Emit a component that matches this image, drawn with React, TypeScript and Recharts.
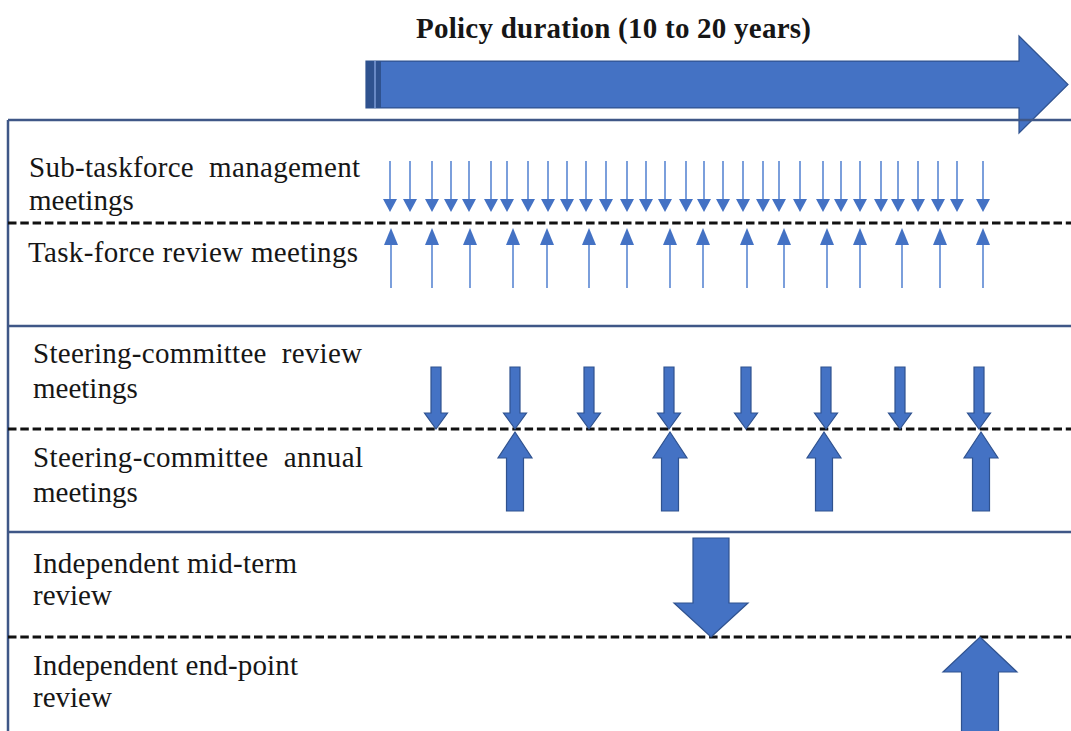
import React from 'react';
import {
  ComposedChart,
  XAxis,
  YAxis,
  Scatter,
  ReferenceLine,
  ReferenceArea,
  Customized,
} from 'recharts';

const WIDTH = 1071;
const HEIGHT = 731;

// where each meeting falls along the policy timeline
const subTaskforceMeetings = [
  390, 410, 432, 451, 469, 491, 507, 528, 548, 567, 586, 606, 627, 646, 665, 686,
  704, 723, 743, 763, 779, 800, 823, 841, 860, 881, 898, 918, 938, 957, 983,
];
const taskforceReviews = [391, 432, 470, 513, 547, 589, 627, 670, 703, 747, 784, 827, 860, 902, 940, 983];
const steeringReviews = [436, 515, 589, 669, 746, 826, 900, 979];
const steeringAnnual = [515, 670, 824, 981];
const midTermReview = [711];
const endPointReview = [980];

// policy duration arrow
const policyStart = 366;
const policyEnd = 1068;

// lanes: solid separators and dashed dividers
const laneLines = [120, 326, 532];
const laneDividers = [223, 429, 637];

const FRAME = '#3f5787';
const BLUE = '#4472c4';
const BLUE_EDGE = '#2f528f';
const FONT = "'Liberation Serif', 'Times New Roman', 'DejaVu Serif', serif";

type ArrowOpts = {
  dir: 'up' | 'down';
  len: number;
  headLen: number;
  headHalf: number;
  shaftHalf: number;
};

// arrow whose tip sits on the data point
const arrowShape = (o: ArrowOpts) => (props: any) => {
  const { cx, cy } = props;
  const s = o.dir === 'down' ? -1 : 1;
  const hy = cy + s * o.headLen;
  const ty = cy + s * o.len;
  if (o.shaftHalf === 0) {
    return (
      <g>
        <line x1={cx} y1={hy} x2={cx} y2={ty} stroke="#5b87d3" strokeWidth={1.6} />
        <polygon points={`${cx},${cy} ${cx + o.headHalf},${hy} ${cx - o.headHalf},${hy}`} fill={BLUE} />
      </g>
    );
  }
  const pts = [
    [cx, cy],
    [cx + o.headHalf, hy],
    [cx + o.shaftHalf, hy],
    [cx + o.shaftHalf, ty],
    [cx - o.shaftHalf, ty],
    [cx - o.shaftHalf, hy],
    [cx - o.headHalf, hy],
  ]
    .map((p) => p.join(','))
    .join(' ');
  return <polygon points={pts} fill={BLUE} stroke={BLUE_EDGE} strokeWidth={1.2} />;
};

const toPoints = (xs: number[], y: number) => xs.map((x) => ({ x, y }));

const PolicyArrow = (props: any) => {
  const { x, y, width, height } = props;
  const bodyTop = y + height * 0.258;
  const bodyBot = y + height * 0.742;
  const headX = x + width - 49;
  const pts = [
    [x, bodyTop],
    [headX, bodyTop],
    [headX, y],
    [x + width, y + height / 2],
    [headX, y + height],
    [headX, bodyBot],
    [x, bodyBot],
  ]
    .map((p) => p.join(','))
    .join(' ');
  return (
    <g>
      <polygon points={pts} fill={BLUE} stroke={BLUE_EDGE} strokeWidth={1.2} />
      <rect x={x} y={bodyTop} width={15} height={bodyBot - bodyTop} fill={BLUE_EDGE} />
      <line x1={x + 9} y1={bodyTop} x2={x + 9} y2={bodyBot} stroke="#7d9bd6" strokeWidth={1.5} />
    </g>
  );
};

const rowLabels = [
  { text: 'Sub-taskforce  management', x: 29, y: 177, len: 331 },
  { text: 'meetings', x: 29, y: 210 },
  { text: 'Task-force review meetings', x: 28, y: 262, len: 330 },
  { text: 'Steering-committee  review', x: 33, y: 363, len: 329 },
  { text: 'meetings', x: 33, y: 398 },
  { text: 'Steering-committee  annual', x: 33, y: 467, len: 330 },
  { text: 'meetings', x: 33, y: 502 },
  { text: 'Independent mid-term', x: 33, y: 573, len: 264 },
  { text: 'review', x: 33, y: 605 },
  { text: 'Independent end-point', x: 33, y: 675, len: 265 },
  { text: 'review', x: 33, y: 707 },
];

const Labels = () => (
  <g>
    <text
      x={416}
      y={38}
      textLength={395}
      lengthAdjust="spacing"
      style={{ fontFamily: FONT, fontSize: 29, fontWeight: 'bold', fill: '#161616' }}
    >
      Policy duration (10 to 20 years)
    </text>
    {rowLabels.map((l, i) => (
      <text
        key={i}
        x={l.x}
        y={l.y}
        textLength={l.len}
        lengthAdjust={l.len ? 'spacing' : undefined}
        style={{ fontFamily: FONT, fontSize: 29, fill: '#161616', whiteSpace: 'pre' }}
      >
        {l.text}
      </text>
    ))}
  </g>
);

export default function App() {
  return (
    <div style={{ position: 'absolute', left: 0, top: 0, width: WIDTH, height: HEIGHT, background: '#fff' }}>
      <ComposedChart width={WIDTH} height={HEIGHT} margin={{ top: 0, right: 0, bottom: 0, left: 0 }}>
        <XAxis type="number" dataKey="x" domain={[0, WIDTH]} hide height={0} />
        <YAxis type="number" dataKey="y" domain={[0, HEIGHT]} reversed hide width={0} />

        {laneLines.map((y) => (
          <ReferenceLine
            key={`l${y}`}
            segment={[{ x: 8, y }, { x: WIDTH, y }]}
            stroke={FRAME}
            strokeWidth={2.5}
          />
        ))}
        <ReferenceLine segment={[{ x: 8, y: laneLines[0] }, { x: 8, y: HEIGHT }]} stroke={FRAME} strokeWidth={2.5} />
        {laneDividers.map((y) => (
          <ReferenceLine
            key={`d${y}`}
            segment={[{ x: 8, y }, { x: WIDTH, y }]}
            stroke="#111"
            strokeWidth={3}
            strokeDasharray="8.5 3.8"
          />
        ))}

        <ReferenceArea x1={policyStart} x2={policyEnd} y1={36} y2={133} shape={PolicyArrow} />

        <Scatter
          data={toPoints(subTaskforceMeetings, 212)}
          isAnimationActive={false}
          shape={arrowShape({ dir: 'down', len: 51, headLen: 13, headHalf: 7, shaftHalf: 0 })}
        />
        <Scatter
          data={toPoints(taskforceReviews, 228)}
          isAnimationActive={false}
          shape={arrowShape({ dir: 'up', len: 60, headLen: 17, headHalf: 7, shaftHalf: 0 })}
        />
        <Scatter
          data={toPoints(steeringReviews, 429)}
          isAnimationActive={false}
          shape={arrowShape({ dir: 'down', len: 62, headLen: 16, headHalf: 11.5, shaftHalf: 5 })}
        />
        <Scatter
          data={toPoints(steeringAnnual, 432)}
          isAnimationActive={false}
          shape={arrowShape({ dir: 'up', len: 79, headLen: 26, headHalf: 17, shaftHalf: 8.5 })}
        />
        <Scatter
          data={toPoints(midTermReview, 637)}
          isAnimationActive={false}
          shape={arrowShape({ dir: 'down', len: 99, headLen: 34, headHalf: 37, shaftHalf: 18 })}
        />
        <Scatter
          data={toPoints(endPointReview, 637)}
          isAnimationActive={false}
          shape={arrowShape({ dir: 'up', len: 110, headLen: 35, headHalf: 37, shaftHalf: 18.5 })}
        />

        <Customized component={Labels} />
      </ComposedChart>
    </div>
  );
}
